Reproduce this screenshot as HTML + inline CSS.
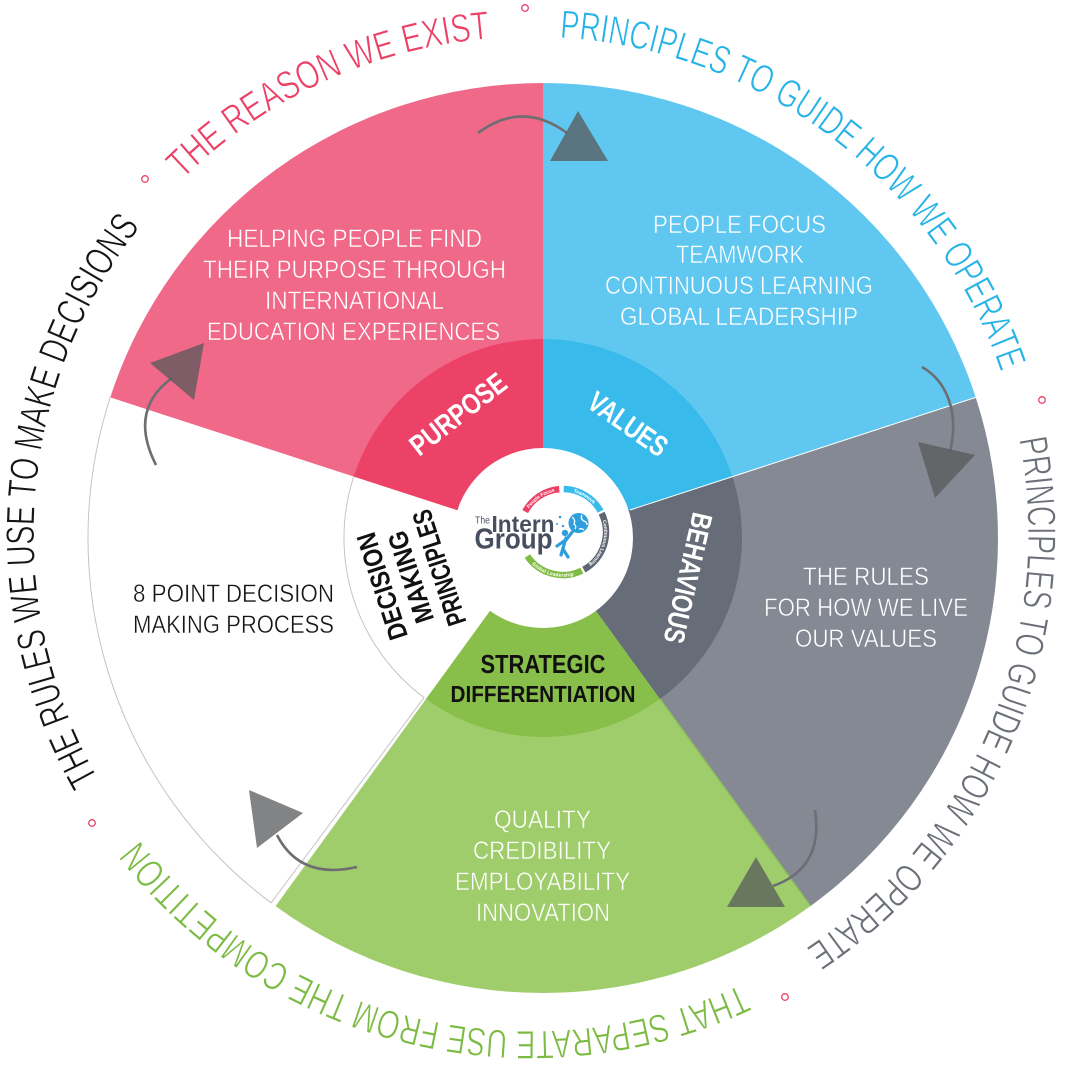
<!DOCTYPE html>
<html>
<head>
<meta charset="utf-8">
<style>
  html,body{margin:0;padding:0;background:#fff;}
  svg{display:block;}
  .arc{font-family:"Liberation Sans",sans-serif;font-size:40px;stroke:#fff;stroke-width:0.8px;}
  .w{font-family:"Liberation Sans",sans-serif;font-size:25px;fill:#fff;text-anchor:middle;stroke-width:0.5px;}
  .k{font-family:"Liberation Sans",sans-serif;font-size:25px;fill:#151515;text-anchor:middle;stroke:#fff;stroke-width:0.4px;}
  .b{font-family:"Liberation Sans",sans-serif;font-weight:bold;font-size:29px;text-anchor:middle;}
  .lt{font-family:"Liberation Sans",sans-serif;font-size:5px;fill:#fff;font-weight:bold;text-anchor:middle;}
</style>
</head>
<body>
<svg width="1068" height="1069" viewBox="0 0 1068 1069" xmlns="http://www.w3.org/2000/svg">
<defs>
  <path id="pk" d="M182.65,179.51 A497,497 0 0 1 490.28,38.67"/>
  <path id="bl" d="M559.61,37.82 A497,497 0 0 1 1000.92,372.19"/>
  <path id="gr" d="M1018.87,439.17 A497,497 0 0 1 805.31,948.44"/>
  <path id="gn" d="M741.04,984.44 A497,497 0 0 1 139.36,839.98"/>
  <path id="bk" d="M98.43,778.73 A497,497 0 0 1 140.43,226.65"/>
  <path id="lp" d="M525.18,511.55 A43,43 0 0 1 559.25,489.16"/>
  <path id="lb" d="M563.75,489.01 A43,43 0 0 1 600.61,511.15"/>
  <path id="lg" d="M601.65,513.15 A43,43 0 0 1 583.85,569.61"/>
  <path id="ln" d="M527.35,556.05 A43,43 0 0 0 581.85,570.65"/>
</defs>

<rect x="0" y="0" width="1068" height="1069" fill="#fff"/>

<!-- white sector -->
<path d="M543,538 L271.1,902.8 A455,455 0 0 1 110.27,397.40 Z" fill="#fff"/>
<!-- outer sectors -->
<path d="M543,538 L110.27,397.40 A455,455 0 0 1 543,83 Z" fill="#f06989"/>
<path d="M543,538 L543,83 A455,455 0 0 1 975.73,397.40 Z" fill="#60c8f0"/>
<path d="M543,538 L975.73,397.40 A455,455 0 0 1 810.44,906.10 Z" fill="#848994"/>
<path d="M543,538 L810.44,906.10 A455,455 0 0 1 275.56,906.10 Z" fill="#a0cd6c"/>

<!-- inner ring -->
<path d="M543,538 L353.74,476.50 A199,199 0 0 1 543,339 Z" fill="#ed4268"/>
<path d="M543,538 L543,339 A199,199 0 0 1 732.26,476.50 Z" fill="#38bbeb"/>
<path d="M543,538 L732.26,476.50 A199,199 0 0 1 659.97,699 Z" fill="#666c78"/>
<path d="M543,538 L659.97,699 A199,199 0 0 1 426.03,699 Z" fill="#88be4a"/>

<!-- separators -->
<line x1="630" y1="510" x2="975.73" y2="397.40" stroke="#fff" stroke-width="1"/>
<line x1="659.97" y1="699" x2="810.44" y2="906.10" stroke="#8fc25a" stroke-width="1.5"/>

<!-- white sector outline -->
<path d="M110.27,397.40 A455,455 0 0 0 271.1,902.8 L424.1,697.6" fill="none" stroke="#c4c4c4" stroke-width="1"/>
<path d="M353.74,476.50 A199,199 0 0 0 424.1,697.6" fill="none" stroke="#c4c4c4" stroke-width="1"/>

<!-- center white circle -->
<circle cx="543" cy="538" r="90" fill="#fff"/>

<!-- outer arc texts -->
<text class="arc" fill="#ec4167" textLength="345" lengthAdjust="spacingAndGlyphs"><textPath href="#pk">THE REASON WE EXIST</textPath></text>
<text class="arc" fill="#28b3e7" textLength="587" lengthAdjust="spacingAndGlyphs"><textPath href="#bl">PRINCIPLES TO GUIDE HOW WE OPERATE</textPath></text>
<text class="arc" fill="#6b6f78" textLength="585" lengthAdjust="spacingAndGlyphs"><textPath href="#gr">PRINCIPLES TO GUIDE HOW WE OPERATE</textPath></text>
<text class="arc" fill="#7cbb43" textLength="668" lengthAdjust="spacingAndGlyphs"><textPath href="#gn">THAT SEPARATE USE FROM THE COMPETITION</textPath></text>
<text class="arc" fill="#151515" textLength="587" lengthAdjust="spacingAndGlyphs"><textPath href="#bk">THE RULES WE USE TO MAKE DECISIONS</textPath></text>

<!-- dots -->
<g fill="#fff" stroke="#ec4167" stroke-width="1.3">
  <circle cx="525" cy="8" r="3.3"/>
  <circle cx="1042" cy="400" r="3.3"/>
  <circle cx="785" cy="997" r="3.3"/>
  <circle cx="92" cy="823" r="3.3"/>
  <circle cx="145" cy="179" r="3.3"/>
</g>

<!-- pink text -->
<g stroke="#f06989">
<text class="w" x="354.5" y="247" textLength="255" lengthAdjust="spacingAndGlyphs">HELPING PEOPLE FIND</text>
<text class="w" x="354.5" y="278" textLength="303" lengthAdjust="spacingAndGlyphs">THEIR PURPOSE THROUGH</text>
<text class="w" x="354.5" y="309" textLength="179" lengthAdjust="spacingAndGlyphs">INTERNATIONAL</text>
<text class="w" x="353.5" y="340" textLength="293" lengthAdjust="spacingAndGlyphs">EDUCATION EXPERIENCES</text>
</g>

<!-- blue text -->
<g stroke="#60c8f0">
<text class="w" x="739.5" y="233" textLength="173" lengthAdjust="spacingAndGlyphs">PEOPLE FOCUS</text>
<text class="w" x="740" y="263" textLength="128" lengthAdjust="spacingAndGlyphs">TEAMWORK</text>
<text class="w" x="739" y="294" textLength="268" lengthAdjust="spacingAndGlyphs">CONTINUOUS LEARNING</text>
<text class="w" x="739" y="325" textLength="238" lengthAdjust="spacingAndGlyphs">GLOBAL LEADERSHIP</text>
</g>

<!-- gray text -->
<g stroke="#848994">
<text class="w" x="866" y="585" textLength="126" lengthAdjust="spacingAndGlyphs">THE RULES</text>
<text class="w" x="866" y="616" textLength="204" lengthAdjust="spacingAndGlyphs">FOR HOW WE LIVE</text>
<text class="w" x="866" y="647" textLength="142" lengthAdjust="spacingAndGlyphs">OUR VALUES</text>
</g>

<!-- green text -->
<g stroke="#a0cd6c">
<text class="w" x="542.5" y="828" textLength="97" lengthAdjust="spacingAndGlyphs">QUALITY</text>
<text class="w" x="542" y="859" textLength="138" lengthAdjust="spacingAndGlyphs">CREDIBILITY</text>
<text class="w" x="542.5" y="890" textLength="175" lengthAdjust="spacingAndGlyphs">EMPLOYABILITY</text>
<text class="w" x="543" y="921" textLength="134" lengthAdjust="spacingAndGlyphs">INNOVATION</text>
</g>

<!-- white sector text -->
<text class="k" x="233.5" y="602" textLength="201" lengthAdjust="spacingAndGlyphs">8 POINT DECISION</text>
<text class="k" x="233.5" y="633" textLength="201" lengthAdjust="spacingAndGlyphs">MAKING PROCESS</text>

<!-- inner ring labels -->
<text class="b" fill="#fff" transform="translate(458,414) rotate(-38)" x="0" y="10" textLength="114" lengthAdjust="spacingAndGlyphs">PURPOSE</text>
<text class="b" fill="#fff" transform="translate(628,424) rotate(35)" x="0" y="10" textLength="90" lengthAdjust="spacingAndGlyphs">VALUES</text>
<text class="b" fill="#fff" transform="translate(688,578) rotate(103)" x="0" y="10" textLength="133" lengthAdjust="spacingAndGlyphs">BEHAVIOUS</text>
<g transform="translate(410.5,577) rotate(-108)">
  <text class="b" fill="#111" x="0" y="-20.5" style="font-size:27px" textLength="111" lengthAdjust="spacingAndGlyphs">DECISION</text>
  <text class="b" fill="#111" x="0" y="9.5" style="font-size:27px" textLength="95" lengthAdjust="spacingAndGlyphs">MAKING</text>
  <text class="b" fill="#111" x="0" y="39.5" style="font-size:27px" textLength="120" lengthAdjust="spacingAndGlyphs">PRINCIPLES</text>
</g>
<text class="b" fill="#111" x="543" y="673" style="font-size:26px" textLength="125" lengthAdjust="spacingAndGlyphs">STRATEGIC</text>
<text class="b" fill="#111" x="543" y="702" style="font-size:23px" textLength="185" lengthAdjust="spacingAndGlyphs">DIFFERENTIATION</text>

<!-- logo -->
<g fill="none" stroke-width="6.5">
  <path d="M525.18,511.55 A43,43 0 0 1 559.25,489.16" stroke="#ec4167"/>
  <path d="M563.75,489.01 A43,43 0 0 1 600.61,511.15" stroke="#38bbeb"/>
  <path d="M601.65,513.15 A43,43 0 0 1 583.85,569.61" stroke="#5f6571"/>
  <path d="M527.35,556.05 A43,43 0 0 0 581.85,570.65" stroke="#80bc45"/>
</g>
<text class="lt" dy="1.8"><textPath href="#lp" startOffset="50%">People Focus</textPath></text>
<text class="lt" dy="1.8"><textPath href="#lb" startOffset="50%">Teamwork</textPath></text>
<text class="lt" dy="1.8"><textPath href="#lg" startOffset="50%">Continuous Learning</textPath></text>
<text class="lt" dy="1.8"><textPath href="#ln" startOffset="50%">Global Leadership</textPath></text>

<text x="475" y="523.3" font-family="Liberation Sans, sans-serif" font-size="10.5" fill="#4b5264" textLength="15" lengthAdjust="spacingAndGlyphs">The</text>
<text x="491.5" y="532" font-family="Liberation Sans, sans-serif" font-weight="bold" font-size="23" fill="#474e60" textLength="63" lengthAdjust="spacingAndGlyphs">Intern</text>
<text x="474.5" y="548.5" font-family="Liberation Sans, sans-serif" font-weight="bold" font-size="29" fill="#474e60" textLength="78" lengthAdjust="spacingAndGlyphs">Group</text>

<circle cx="578.5" cy="523" r="10" fill="#2f9fdc"/>
<path d="M572,517 q4,3 2,7 q3,2 1,5 M582,515 q-2,4 2,6 q3,1 3,4 M579,529 q3,-1 5,1" fill="none" stroke="#fff" stroke-width="1.3"/>
<g fill="#2f9fdc">
  <circle cx="565" cy="533" r="3.2"/>
  <circle cx="560" cy="517" r="1.3"/>
  <circle cx="557" cy="524" r="1"/>
  <circle cx="563" cy="526" r="1.2"/>
</g>
<g fill="none" stroke="#2f9fdc" stroke-width="3.2" stroke-linecap="round">
  <path d="M566,538 L561,555"/>
  <path d="M566,540 L573,531"/>
  <path d="M564,541 L557,546"/>
  <path d="M563,549 L568,557"/>
</g>

<!-- arrows -->
<g fill="none" stroke="#6d6e71" stroke-width="2.6">
  <path d="M478,133 Q522,100 567,133"/>
  <path d="M922,367 C945,380 960,410 950,452"/>
  <path d="M815,810 Q824,868 773,886"/>
  <path d="M357,867 Q300,880 277,835"/>
  <path d="M156,465 Q128,410 172,378"/>
</g>
<g fill="#58595b" fill-opacity="0.75">
  <polygon points="578,111 550,161 608,161"/>
  <polygon points="918,442 975,455 935,498"/>
  <polygon points="756,857 727,907 785,907"/>
  <polygon points="249,790 303,813 257,848"/>
  <polygon points="150,363 204,343 194,400"/>
</g>
</svg>
</body>
</html>
